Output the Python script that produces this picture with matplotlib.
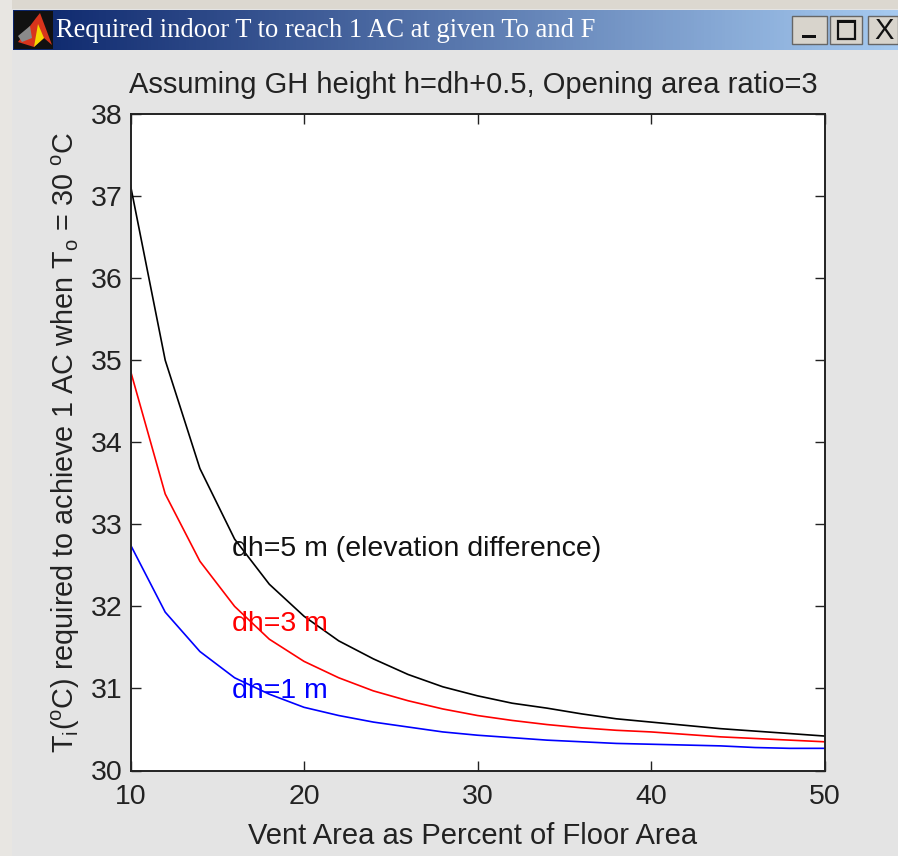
import numpy as np
import matplotlib
matplotlib.use("Agg")
import matplotlib.pyplot as plt
from matplotlib.patches import Rectangle, Polygon

plt.rcParams['font.family'] = ['Liberation Sans', 'DejaVu Sans']
plt.rcParams['mathtext.fontset'] = 'custom'
plt.rcParams['mathtext.rm'] = 'Liberation Sans'
plt.rcParams['mathtext.default'] = 'regular'

vent_pct = [10, 12, 14, 16, 18, 20, 22, 24, 26, 28, 30, 32, 34, 36, 38, 40, 42, 44, 46, 48, 50]
t_dh5 = [37.13, 35.0, 33.68, 32.82, 32.27, 31.88, 31.58, 31.36, 31.17, 31.02, 30.91,
         30.82, 30.76, 30.69, 30.63, 30.59, 30.55, 30.51, 30.48, 30.45, 30.42]
t_dh3 = [34.87, 33.37, 32.55, 32.0, 31.6, 31.33, 31.13, 30.97, 30.85, 30.75, 30.67,
         30.61, 30.56, 30.52, 30.49, 30.47, 30.44, 30.41, 30.39, 30.37, 30.35]
t_dh1 = [32.75, 31.93, 31.45, 31.13, 30.93, 30.77, 30.67, 30.59, 30.53, 30.47, 30.43,
         30.40, 30.37, 30.35, 30.33, 30.32, 30.31, 30.30, 30.28, 30.27, 30.27]
x_ticks = [10, 20, 30, 40, 50]
y_ticks = [30, 31, 32, 33, 34, 35, 36, 37, 38]

W, H = 898, 856
fig = plt.figure(figsize=(W / 100, H / 100), dpi=100, facecolor='#e4e4e4')

# window chrome, in pixel coordinates
bg = fig.add_axes([0, 0, 1, 1])
bg.set_xlim(0, W); bg.set_ylim(H, 0); bg.axis('off')
bg.add_patch(Rectangle((0, 0), W, 9, color='#dcd8d0', lw=0))
bg.add_patch(Rectangle((0, 0), 12, H, color='#e8e6e2', lw=0))
c0, c1 = np.array([10, 36, 106]) / 255, np.array([166, 202, 240]) / 255
grad = np.linspace(0, 1, 256)[None, :, None] * (c1 - c0) + c0
bg.imshow(grad, extent=(13, W, 50, 10), aspect='auto', zorder=1)
bg.set_xlim(0, W); bg.set_ylim(H, 0)
bg.add_patch(Rectangle((14, 11), 39, 38, color='#111111', lw=0, zorder=2))
bg.add_patch(Polygon([[18, 42], [36, 18], [40, 13], [52, 45], [44, 38], [34, 47]], color='#d8341c', lw=0, zorder=3))
bg.add_patch(Polygon([[34, 47], [38, 24], [44, 38]], color='#f5d800', lw=0, zorder=4))
bg.add_patch(Polygon([[18, 36], [30, 26], [32, 38], [22, 42]], color='#8a8a8a', lw=0, zorder=4))
bg.text(56, 30.5, 'Required indoor T to reach 1 AC at given To and F', color='white',
        family=['Liberation Serif', 'DejaVu Serif'], fontsize=19.1, va='center', ha='left', zorder=5)
for x0, x1 in [(792, 827), (830, 862), (868, 898)]:
    bg.add_patch(Rectangle((x0, 16), x1 - x0, 28, facecolor='#d8d4cc', edgecolor='#666666', lw=1, zorder=5))
bg.add_patch(Rectangle((802, 35), 14, 3, color='#111111', lw=0, zorder=6))
bg.add_patch(Rectangle((838, 21), 17, 18, facecolor='none', edgecolor='#111111', lw=1.6, zorder=6))
bg.add_patch(Rectangle((838, 20), 17, 3, color='#111111', lw=0, zorder=6))
bg.text(884, 30.5, 'X', color='#111111', fontsize=21, ha='center', va='center', zorder=6)

# plot
L, R, T, B = 130.5, 824.5, 114, 770.5
ax = fig.add_axes([L / W, 1 - B / H, (R - L) / W, (B - T) / H])
ax.plot(vent_pct, t_dh5, color='black', lw=1.2)
ax.plot(vent_pct, t_dh3, color='red', lw=1.2)
ax.plot(vent_pct, t_dh1, color='blue', lw=1.2)
ax.set_xlim(10, 50); ax.set_ylim(30, 38)
ax.set_xticks(x_ticks); ax.set_yticks(y_ticks)
ax.tick_params(axis='both', direction='in', top=True, right=True, length=7, width=1.0, labelsize=20.5,
               colors='#222222')
ax.tick_params(axis='x', pad=10)
ax.tick_params(axis='y', pad=6)
for s in ax.spines.values():
    s.set_linewidth(1.4); s.set_color('#222222')
fs = 21
ax.set_title('Assuming GH height h=dh+0.5, Opening area ratio=3', fontsize=fs, pad=15, color='#222222', x=0.4945)
ax.set_xlabel('Vent Area as Percent of Floor Area', fontsize=fs, labelpad=8, color='#222222', x=0.4935)
ax.set_ylabel(r'T$_i$($^o$C) required to achieve 1 AC when T$_o$ = 30 $^o$C', fontsize=20.7, labelpad=6, color='#222222')
ax.text(15.85, 32.7, 'dh=5 m (elevation difference)', color='#111111', fontsize=20.5, va='center')
ax.text(15.85, 31.79, 'dh=3 m', color='red', fontsize=20.5, va='center')
ax.text(15.85, 30.97, 'dh=1 m', color='blue', fontsize=20.5, va='center')

fig.savefig('out.png', dpi=100, facecolor=fig.get_facecolor())
